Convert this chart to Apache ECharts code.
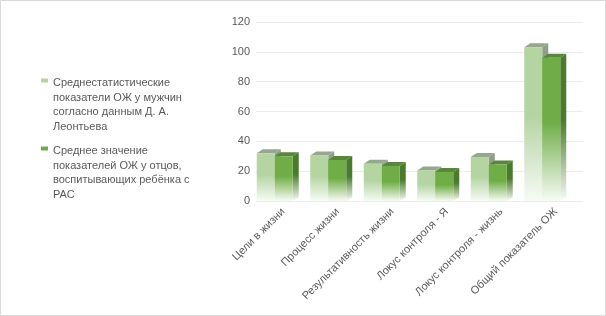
<!DOCTYPE html>
<html>
<head>
<meta charset="utf-8">
<script src="https://cdn.jsdelivr.net/npm/echarts@6/dist/echarts.min.js"></script>
<style>
  html, body { margin: 0; padding: 0; background: #fff; }
  #main { width: 606px; height: 316px; }
</style>
</head>
<body>
<div id="main"></div>
<script>
var categories = ['Цели в жизни', 'Процесс жизни', 'Результативность жизни', 'Локус контроля - Я', 'Локус контроля - жизнь', 'Общий показатель ОЖ'];
var seriesNames = [
  'Среднестатистические показатели ОЖ у мужчин согласно данным Д. А. Леонтьева',
  'Среднее значение показателей ОЖ у отцов, воспитывающих ребёнка с РАС'
];
var legendLines = [
  ['Среднестатистические', 'показатели ОЖ у мужчин', 'согласно данным Д. А.', 'Леонтьева'],
  ['Среднее значение', 'показателей ОЖ у отцов,', 'воспитывающих ребёнка с', 'РАС']
];
var menValues = [32, 30.5, 25, 20.5, 29.5, 103];
var fatherValues = [30, 27.5, 23.5, 19.5, 24.5, 96];
var yTicks = { min: 0, max: 120, interval: 20 };

var chart = echarts.init(document.getElementById('main'));

var BW = 18, DX = 6, DY = -4;
var LINE_H = 14.5;
var palette = [
  { front: '#b4d4a2', side: '#8e9f88', top: '#93a88c', legend: '#b4d4a2' },
  { front: '#70ad47', side: '#4a7a2e', top: '#58863a', legend: '#70ad47' }
];

function fade(c) {
  return new echarts.graphic.LinearGradient(0, 0, 0, 1, [
    { offset: 0, color: c },
    { offset: 0.45, color: c },
    { offset: 1, color: '#f7fbf5' }
  ]);
}

function render3d(params, api) {
  var p = palette[params.seriesIndex];
  var idx = api.value(0);
  var top = api.coord([idx, api.value(1)]);
  var base = api.coord([idx, 0]);
  var left = top[0] + (params.seriesIndex === 0 ? -BW : 0);
  var y0 = top[1], y1 = base[1];
  return {
    type: 'group',
    children: [
      {
        type: 'polygon',
        shape: { points: [[left + BW, y0], [left + BW + DX, y0 + DY], [left + BW + DX, y1 + DY], [left + BW, y1]] },
        style: { fill: fade(p.side) }
      },
      {
        type: 'polygon',
        shape: { points: [[left, y0], [left + DX, y0 + DY], [left + BW + DX, y0 + DY], [left + BW, y0]] },
        style: { fill: p.top }
      },
      {
        type: 'rect',
        shape: { x: left, y: y0, width: BW, height: y1 - y0 },
        style: { fill: fade(p.front) }
      }
    ]
  };
}

// legend marker: small square next to the first line of a 4-line label
var blockH = LINE_H * 4;
var legendIcon = 'path://M0,5h7v4h-7z M0,' + blockH + 'h0.01v0.01h-0.01z';

var fontFamily = 'Liberation Sans, Arial, sans-serif';
var axisFont = { color: '#595959', fontSize: 11, fontFamily: fontFamily };

chart.setOption({
  animation: false,
  graphic: [{
    type: 'rect',
    shape: { x: 0.5, y: 0.5, width: 605, height: 315 },
    style: { fill: 'none', stroke: '#d9d9d9', lineWidth: 1 },
    silent: true
  }],
  legend: {
    orient: 'vertical',
    left: 41,
    top: 76,
    padding: 0,
    itemWidth: 7,
    itemHeight: blockH,
    itemGap: 10,
    icon: legendIcon,
    data: [
      { name: seriesNames[0], itemStyle: { color: palette[0].legend } },
      { name: seriesNames[1], itemStyle: { color: palette[1].legend } }
    ],
    formatter: function (name) {
      return legendLines[seriesNames.indexOf(name)].join('\n');
    },
    textStyle: {
      color: '#595959',
      fontSize: 11,
      fontFamily: fontFamily,
      lineHeight: LINE_H
    }
  },
  grid: [
    { left: 256, top: 22, width: 327, height: 179 },
    { left: 248, top: 22, width: 321, height: 179 }
  ],
  xAxis: [
    {
      gridIndex: 0,
      type: 'category',
      data: categories,
      axisLine: { show: false },
      axisTick: { show: false },
      axisLabel: Object.assign({ rotate: 45, margin: 9, interval: 0 }, axisFont)
    },
    {
      gridIndex: 1,
      type: 'category',
      data: categories,
      show: false
    }
  ],
  yAxis: [
    {
      gridIndex: 0,
      type: 'value',
      min: yTicks.min,
      max: yTicks.max,
      interval: yTicks.interval,
      axisLine: { show: false },
      axisTick: { show: false },
      axisLabel: Object.assign({ margin: 6 }, axisFont),
      splitLine: { lineStyle: { color: '#ececec', width: 1 } }
    },
    {
      gridIndex: 1,
      type: 'value',
      min: yTicks.min,
      max: yTicks.max,
      interval: yTicks.interval,
      show: false,
      splitLine: { show: false }
    }
  ],
  series: [
    {
      name: seriesNames[0],
      type: 'custom',
      xAxisIndex: 1,
      yAxisIndex: 1,
      renderItem: render3d,
      encode: { x: 0, y: 1 },
      itemStyle: { color: palette[0].legend },
      data: menValues.map(function (v, i) { return [i, v]; })
    },
    {
      name: seriesNames[1],
      type: 'custom',
      xAxisIndex: 1,
      yAxisIndex: 1,
      renderItem: render3d,
      encode: { x: 0, y: 1 },
      itemStyle: { color: palette[1].legend },
      data: fatherValues.map(function (v, i) { return [i, v]; })
    }
  ]
});
</script>
</body>
</html>
